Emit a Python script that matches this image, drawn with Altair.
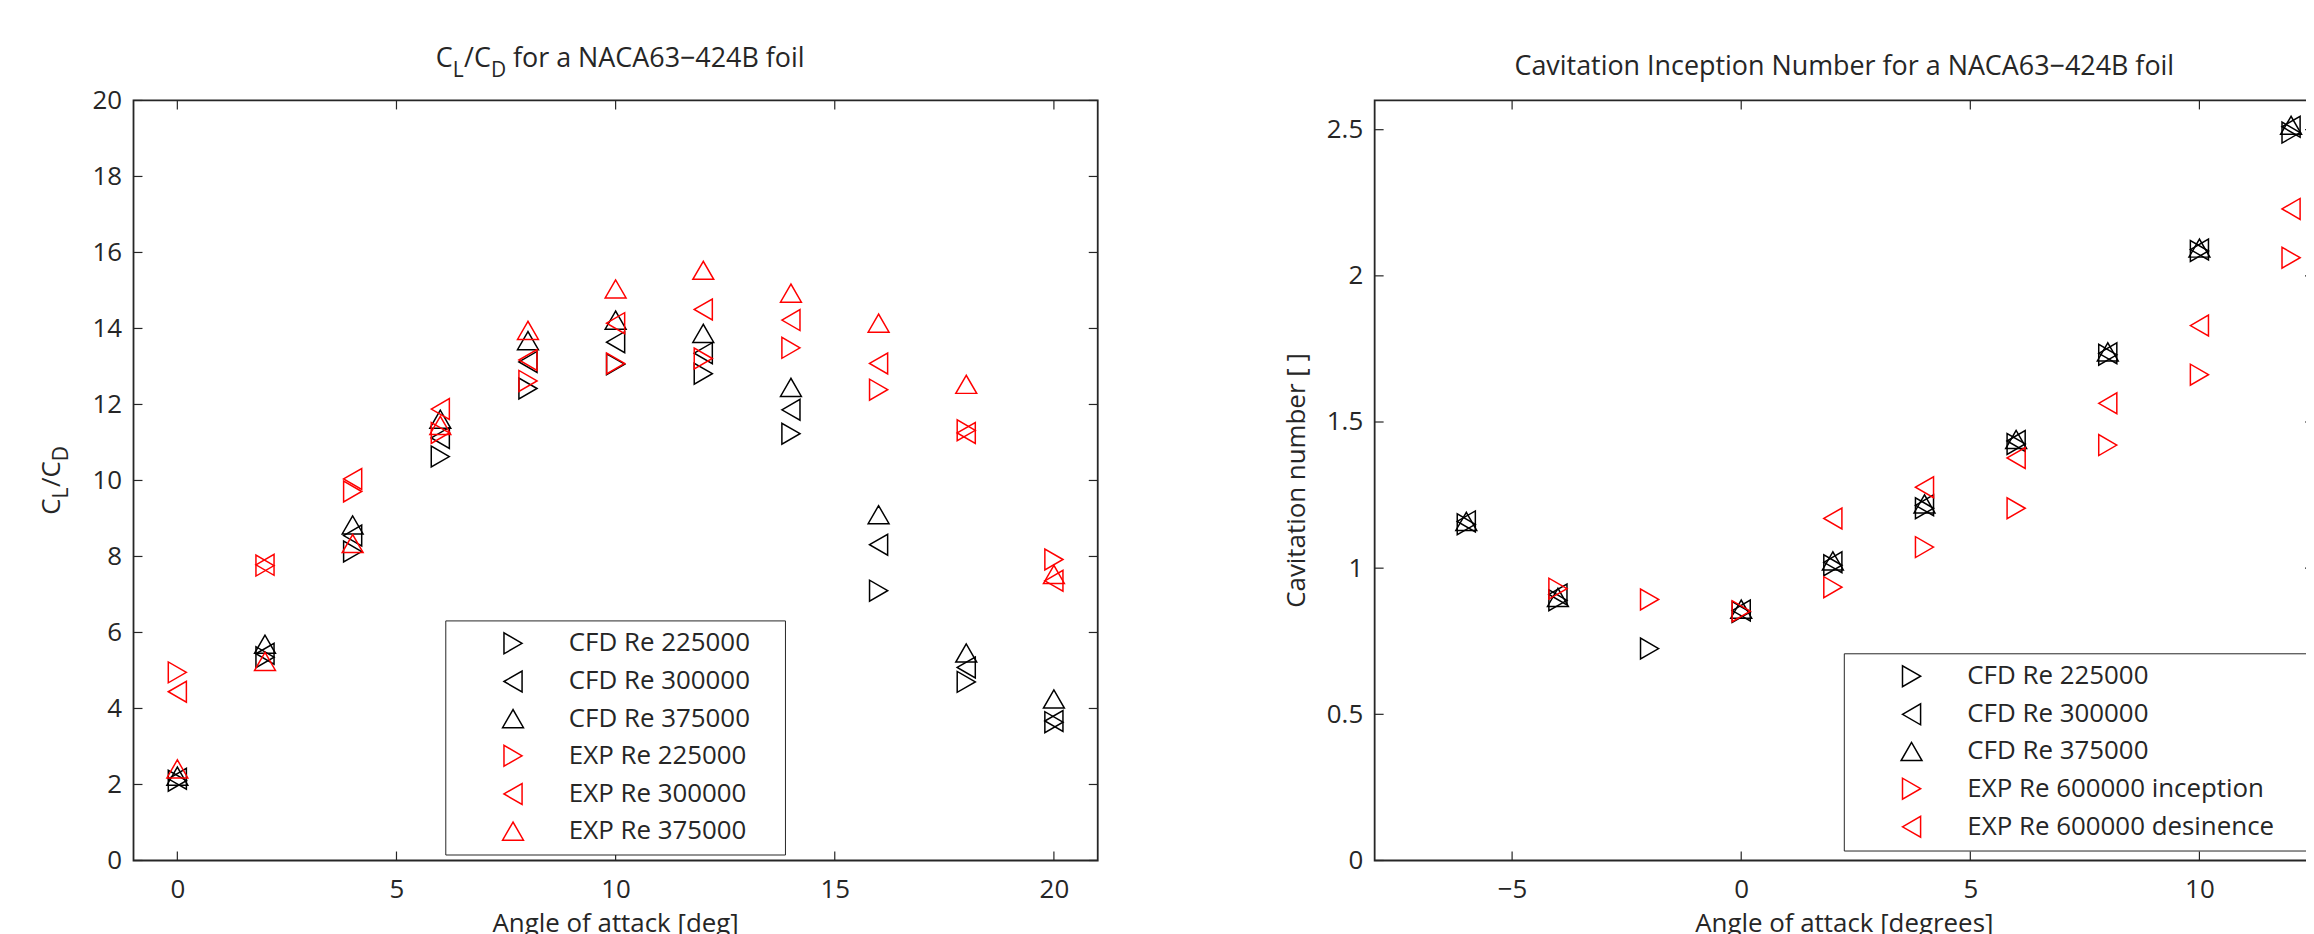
import altair as alt
import pandas as pd

FONT = "Open Sans"
INK = "#262626"
BLACK = "#000000"
RED = "#ff0000"

# ---------------- Left panel: CL/CD ----------------
angle_l = [0, 2, 4, 6, 8, 10, 12, 14, 16, 18, 20]
cfd_225_l = [2.10, 5.35, 8.13, 10.63, 12.42, 13.06, 12.81, 11.23, 7.10, 4.70, 3.64]
cfd_300_l = [2.15, 5.44, 8.55, 11.12, 13.12, 13.64, 13.35, 11.86, 8.31, 5.08, 3.67]
cfd_375_l = [2.22, 5.69, 8.83, 11.61, 13.68, 14.22, 13.87, 12.45, 9.10, 5.46, 4.25]
exp_225_l = [4.95, 7.76, 9.71, 11.25, 12.62, 13.08, 13.21, 13.49, 12.39, 11.32, 7.92]
exp_300_l = [4.44, 7.78, 10.04, 11.88, 13.17, 14.14, 14.50, 14.22, 13.08, 11.25, 7.36]
exp_375_l = [2.41, 5.24, 8.34, 11.45, 13.95, 15.04, 15.53, 14.93, 14.14, 12.53, 7.53]
series_l = ["CFD Re 225000", "CFD Re 300000", "CFD Re 375000",
            "EXP Re 225000", "EXP Re 300000", "EXP Re 375000"]
xticks_l = [0, 5, 10, 15, 20]
yticks_l = [0, 2, 4, 6, 8, 10, 12, 14, 16, 18, 20]

# ---------------- Right panel: cavitation number ----------------
angle_r = [-6, -4, -2, 0, 2, 4, 6, 8, 10, 12]
cfd_225_r = [1.15, 0.89, 0.725, 0.850, 1.010, 1.205, 1.425, 1.730, 2.085, 2.490]
cfd_300_r = [1.16, 0.91, None, 0.855, 1.020, 1.215, 1.435, 1.735, 2.090, 2.510]
cfd_375_r = [1.16, 0.90, None, 0.860, 1.025, 1.220, 1.440, 1.740, 2.095, 2.515]
exp_inc_r = [None, 0.93, 0.893, 0.853, 0.935, 1.072, 1.205, 1.421, 1.662, 2.062]
exp_des_r = [None, None, None, None, 1.170, 1.277, 1.377, 1.564, 1.830, 2.229]
series_r = ["CFD Re 225000", "CFD Re 300000", "CFD Re 375000",
            "EXP Re 600000 inception", "EXP Re 600000 desinence"]
xticks_r = [-5, 0, 5, 10]
yticks_r = [0, 0.5, 1, 1.5, 2, 2.5]

W_L, W_R, H = 968, 943, 763
FS = 26
TFS = 27
SUB_FS = 21
TICK = 9


def long_df(angles, names, values):
    rows = []
    for name, vals in zip(names, values):
        for a, v in zip(angles, vals):
            if v is not None:
                rows.append({"angle": a, "value": v, "series": name})
    return pd.DataFrame(rows)


def txt(s, x, y, size=FS, angle=0, align="left", dx=0, dy=0):
    props = dict(font=FONT, fontSize=size, color=INK, align=align,
                 baseline="alphabetic", dx=dx, dy=dy)
    if angle:
        props["angle"] = angle
    return alt.Chart(pd.DataFrame({"s": [s]})).mark_text(**props).encode(
        text="s:N", x=alt.value(x), y=alt.value(y))


def panel(df, names, shapes, colors, xdom, ydom, xticks, yticks, width,
          legend_pos, legend_extra, extra_layers):
    xs = alt.Scale(domain=xdom, nice=False, zero=False)
    ys = alt.Scale(domain=ydom, nice=False, zero=False)
    leg = alt.Legend(
        orient="none", legendX=legend_pos[0], legendY=legend_pos[1],
        title="\u2003", titleOrient="right", titleFontSize=FS,
        titlePadding=legend_extra,
        padding=10, rowPadding=10.3, symbolOffset=45, labelOffset=43,
        symbolSize=440, symbolStrokeWidth=1.5, symbolOpacity=1,
        labelFont=FONT, labelFontSize=FS, labelColor=INK, labelLimit=600,
        strokeColor=INK, fillColor="white",
    )
    axis_common = dict(grid=False, ticks=False, domain=False, title=None,
                       labelFont=FONT, labelFontSize=FS, labelColor=INK,
                       labelOverlap=False, labelFlush=False, format="~g")
    points = alt.Chart(df).mark_point(filled=False, size=440, strokeWidth=1.5,
                                      opacity=1).encode(
        x=alt.X("angle:Q", scale=xs,
                axis=alt.Axis(values=xticks, labelPadding=16, **axis_common)),
        y=alt.Y("value:Q", scale=ys,
                axis=alt.Axis(values=yticks, labelPadding=12, **axis_common)),
        color=alt.Color("series:N", scale=alt.Scale(domain=names, range=colors),
                        legend=leg),
        shape=alt.Shape("series:N", scale=alt.Scale(domain=names, range=shapes),
                        legend=leg),
    )
    xt = pd.DataFrame({"t": xticks})
    yt = pd.DataFrame({"t": yticks})
    rule = dict(color=INK, strokeWidth=1.2)
    ticks = [
        alt.Chart(xt).mark_rule(**rule).encode(
            x=alt.X("t:Q", scale=xs), y=alt.value(H), y2=alt.value(H - TICK)),
        alt.Chart(xt).mark_rule(**rule).encode(
            x=alt.X("t:Q", scale=xs), y=alt.value(0), y2=alt.value(TICK)),
        alt.Chart(yt).mark_rule(**rule).encode(
            y=alt.Y("t:Q", scale=ys), x=alt.value(0), x2=alt.value(TICK)),
        alt.Chart(yt).mark_rule(**rule).encode(
            y=alt.Y("t:Q", scale=ys), x=alt.value(width), x2=alt.value(width - TICK)),
    ]
    return alt.layer(points, *ticks, *extra_layers).properties(width=width, height=H)


# approximate advance widths (em) for the subscripted pieces
wC, wL, wSlashC, wD, wSp = 0.633, 0.54, 1.0, 0.72, 0.26

# left title "C_L/C_D for a NACA63-424B foil"
x_for = 381
base_y = -34
sub_dy = 10
xD = x_for - wSp * TFS - wD * SUB_FS
xSC = xD - wSlashC * TFS
xLs = xSC - wL * SUB_FS
xC = xLs - wC * TFS
title_l = [
    txt("C", xC, base_y, size=TFS),
    txt("L", xLs, base_y + sub_dy, size=SUB_FS),
    txt("/C", xSC, base_y, size=TFS),
    txt("D", xD, base_y + sub_dy, size=SUB_FS),
    txt("for a NACA63\u2212424B foil", x_for, base_y, size=TFS),
]

# left y title rotated "C_L/C_D"
tot = wC * FS + wL * SUB_FS + wSlashC * FS + wD * SUB_FS
y0 = H / 2 + tot / 2
yx = -74
ytitle_l = [
    txt("C", yx, y0, angle=270, dx=0),
    txt("L", yx, y0, size=SUB_FS, angle=270, dx=wC * FS, dy=8),
    txt("/C", yx, y0, angle=270, dx=wC * FS + wL * SUB_FS),
    txt("D", yx, y0, size=SUB_FS, angle=270, dx=wC * FS + wL * SUB_FS + wSlashC * FS, dy=8),
]

helper = alt.Chart(pd.DataFrame({"h": [0]})).mark_rule(opacity=0, strokeOpacity=0).encode(
    x=alt.value(-125), y=alt.value(-90), y2=alt.value(-80))

XT_Y = 835
left_extra = title_l + ytitle_l + [
    txt("Angle of attack [deg]", W_L / 2, XT_Y, align="center"),
    helper,
]
right_extra = [
    txt("Cavitation Inception Number for a NACA63\u2212424B foil", W_R / 2, -26,
        size=TFS, align="center"),
    txt("Cavitation number [ ]", -70, H / 2, angle=270, align="center"),
    txt("Angle of attack [degrees]", W_R / 2, XT_Y, align="center"),
]

df_l = long_df(angle_l, series_l,
               [cfd_225_l, cfd_300_l, cfd_375_l, exp_225_l, exp_300_l, exp_375_l])
df_r = long_df(angle_r, series_r,
               [cfd_225_r, cfd_300_r, cfd_375_r, exp_inc_r, exp_des_r])

left = panel(df_l, series_l,
             ["triangle-right", "triangle-left", "triangle-up"] * 2,
             [BLACK] * 3 + [RED] * 3,
             [-1, 21], [0, 20], xticks_l, yticks_l, W_L,
             (313, 522), 25, left_extra)
right = panel(df_r, series_r,
              ["triangle-right", "triangle-left", "triangle-up", "triangle-right", "triangle-left"],
              [BLACK] * 3 + [RED] * 2,
              [-8, 12.5], [0, 2.6], xticks_r, yticks_r, W_R,
              (471, 555), 27, right_extra)

chart = alt.hconcat(left, right, spacing=278, bounds="flush").resolve_scale(
    color="independent", shape="independent"
).resolve_legend(
    color="independent", shape="independent"
).properties(
    padding={"left": 0, "top": 0, "right": -10, "bottom": -3},
    background="white",
).configure_view(stroke=INK, strokeWidth=1.8)

chart.save("out.html", embed_options={"renderer": "svg", "actions": False})
